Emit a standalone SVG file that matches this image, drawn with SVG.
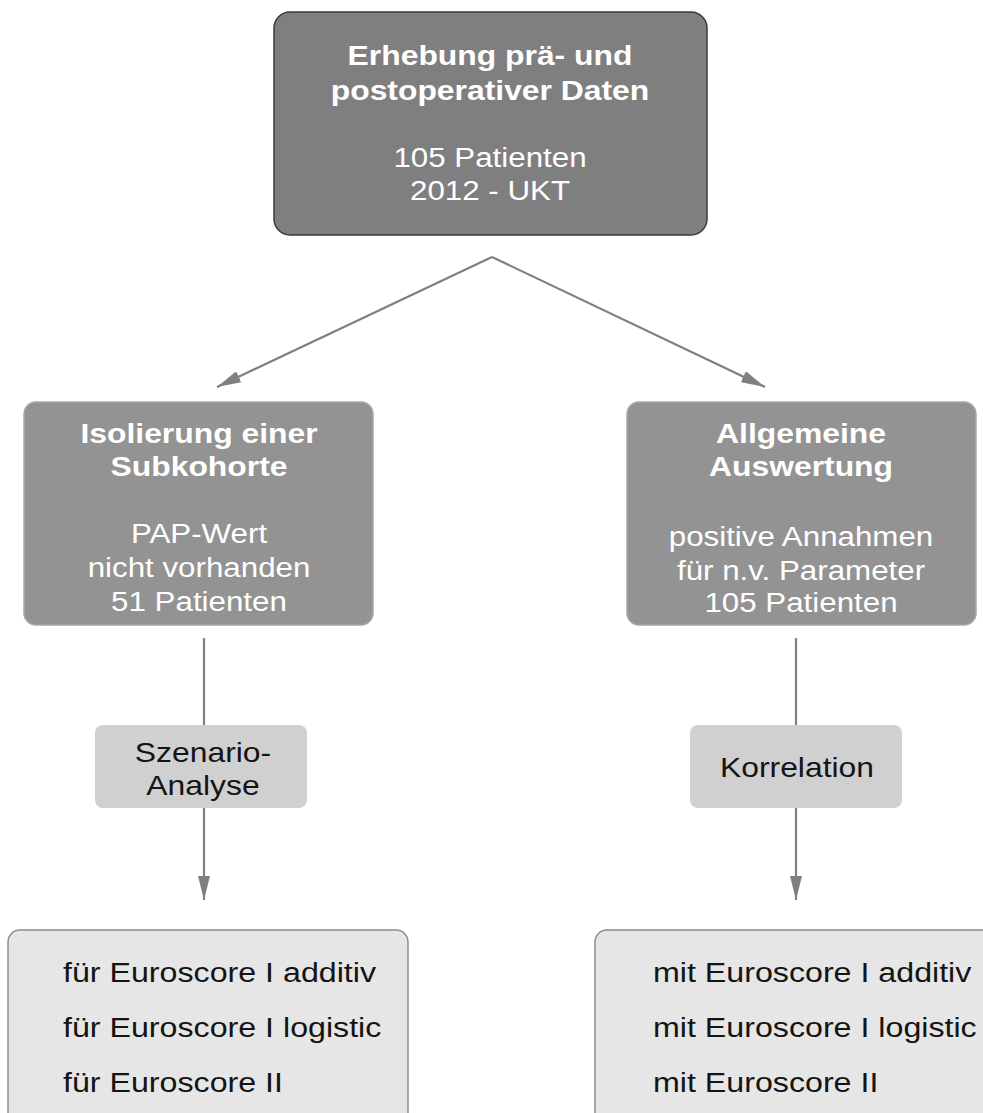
<svg xmlns="http://www.w3.org/2000/svg" width="983" height="1113" viewBox="0 0 983 1113">
<defs>
<style>
.t{font-family:"Liberation Sans",Arial,sans-serif;font-size:27px;}
.b{font-weight:bold;}
.w{fill:#ffffff;}
.k{fill:#141414;}
.c{text-anchor:middle;}
.s{font-size:28px;}
.conn{stroke:#808080;stroke-width:2.2;fill:none;}
</style>
<marker id="ah" viewBox="0 0 24 12" refX="24" refY="6" markerWidth="24" markerHeight="12" markerUnits="userSpaceOnUse" orient="auto">
<path d="M0,0 L24,6 L0,12 z" fill="#808080"/>
</marker>
</defs>
<rect width="983" height="1113" fill="#ffffff"/>
<g id="connectors">
<line class="conn" x1="492" y1="257" x2="217" y2="387" marker-end="url(#ah)"/>
<line class="conn" x1="492" y1="257" x2="765" y2="387" marker-end="url(#ah)"/>
<line class="conn" x1="204" y1="638" x2="204" y2="900" marker-end="url(#ah)"/>
<line class="conn" x1="796" y1="638" x2="796" y2="900" marker-end="url(#ah)"/>
</g>
<g id="top">
<rect x="274" y="12" width="433" height="223" rx="16" fill="#7f7f7f" stroke="#3a3a3a" stroke-width="1.5"/>
<text class="t b w c" transform="translate(490,65) scale(1.18,1)">Erhebung prä- und</text>
<text class="t b w c" transform="translate(490,100) scale(1.18,1)">postoperativer Daten</text>
<text class="t w c" transform="translate(490,167) scale(1.16,1)">105 Patienten</text>
<text class="t w c" transform="translate(490,200) scale(1.16,1)">2012 - UKT</text>
</g>
<g id="left">
<rect x="24" y="402" width="349" height="223" rx="12" fill="#939393" stroke="#a8a8a8" stroke-width="1.5"/>
<text class="t b w c" transform="translate(199,443) scale(1.18,1)">Isolierung einer</text>
<text class="t b w c" transform="translate(199,476) scale(1.18,1)">Subkohorte</text>
<text class="t w c" transform="translate(199,543) scale(1.16,1)">PAP-Wert</text>
<text class="t w c" transform="translate(199,577) scale(1.16,1)">nicht vorhanden</text>
<text class="t w c" transform="translate(199,611) scale(1.16,1)">51 Patienten</text>
</g>
<g id="right">
<rect x="627" y="402" width="349" height="223" rx="12" fill="#939393" stroke="#a8a8a8" stroke-width="1.5"/>
<text class="t b w c" transform="translate(801,443) scale(1.18,1)">Allgemeine</text>
<text class="t b w c" transform="translate(801,476) scale(1.18,1)">Auswertung</text>
<text class="t w c" transform="translate(801,546) scale(1.16,1)">positive Annahmen</text>
<text class="t w c" transform="translate(801,580) scale(1.16,1)">für n.v. Parameter</text>
<text class="t w c" transform="translate(801,612) scale(1.16,1)">105 Patienten</text>
</g>
<g id="szenario">
<rect x="95" y="725" width="212" height="83" rx="8" fill="#d0d0d0"/>
<text class="t k c" transform="translate(203,762) scale(1.18,1)">Szenario-</text>
<text class="t k c" transform="translate(203,795) scale(1.18,1)">Analyse</text>
</g>
<g id="korrelation">
<rect x="690" y="725" width="212" height="83" rx="8" fill="#d0d0d0"/>
<text class="t k c" transform="translate(797,777) scale(1.18,1)">Korrelation</text>
</g>
<g id="bottom-left">
<rect x="8" y="930" width="400" height="200" rx="12" fill="#e6e6e6" stroke="#8c8c8c" stroke-width="1.5"/>
<text class="t s k" transform="translate(63,982) scale(1.15,1)">für Euroscore I additiv</text>
<text class="t s k" transform="translate(63,1037) scale(1.15,1)">für Euroscore I logistic</text>
<text class="t s k" transform="translate(63,1092) scale(1.15,1)">für Euroscore II</text>
</g>
<g id="bottom-right">
<rect x="595" y="930" width="420" height="200" rx="12" fill="#e6e6e6" stroke="#8c8c8c" stroke-width="1.5"/>
<text class="t s k" transform="translate(653,982) scale(1.15,1)">mit Euroscore I additiv</text>
<text class="t s k" transform="translate(653,1037) scale(1.15,1)">mit Euroscore I logistic</text>
<text class="t s k" transform="translate(653,1092) scale(1.15,1)">mit Euroscore II</text>
</g>
</svg>
